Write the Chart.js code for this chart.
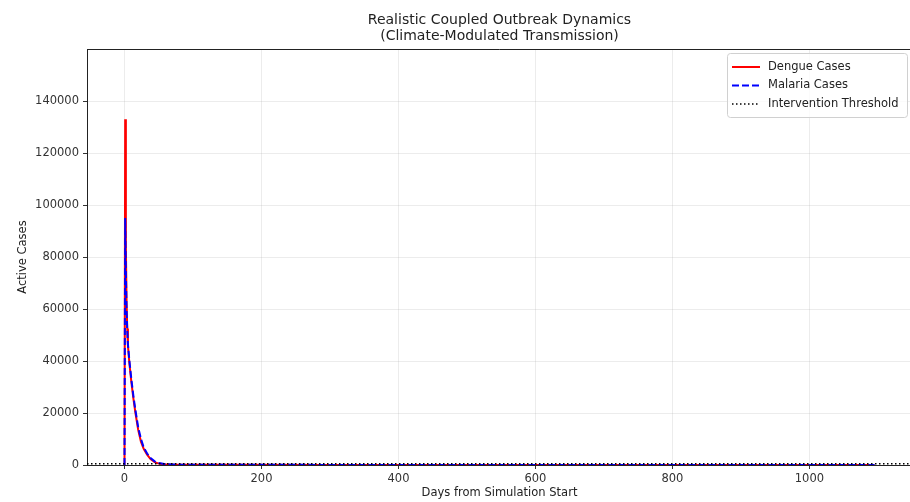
<!DOCTYPE html>
<html>
<head>
<meta charset="utf-8">
<script src="https://cdn.jsdelivr.net/npm/chart.js@4.4.1/dist/chart.umd.min.js"></script>
<style>
  html, body { margin: 0; padding: 0; background: #fff; overflow: hidden; }
  #wrap { width: 915px; height: 502px; }
</style>
</head>
<body>
<div id="wrap"><canvas id="chart" width="915" height="502"></canvas></div>
<script>
// values
const days = [0, 1, 2, 3, 4, 5, 7, 10, 13, 16, 20, 24, 28, 33, 38, 44, 50, 58, 70, 90, 150, 300, 500, 700, 900, 1095];
const dengueCases = [0, 133000, 84000, 63000, 52500, 46000, 39500, 32000, 25500, 20000, 13500, 9000, 6200, 4000, 2300, 1100, 550, 260, 140, 80, 50, 40, 35, 30, 30, 25];
const malariaCases = [0, 95000, 74000, 60000, 52000, 46500, 40500, 33000, 26500, 21000, 14500, 10000, 6800, 4400, 2700, 1400, 750, 380, 180, 90, 60, 45, 40, 35, 35, 30];
const threshold = 500;

const xLimits = [-54.75, 1149.75];
const yLimits = [0, 160000];
const xTicks = [0, 200, 400, 600, 800, 1000];
const yTicks = [0, 20000, 40000, 60000, 80000, 100000, 120000, 140000];

const titleLines = ["Realistic Coupled Outbreak Dynamics", "(Climate-Modulated Transmission)"];
const legendItems = [
  { label: "Dengue Cases", color: "#ff0000", dash: [], width: 2 },
  { label: "Malaria Cases", color: "#0000ff", dash: [7, 3], width: 2 },
  { label: "Intervention Threshold", color: "#000000", dash: [1.5, 2.5], width: 1.5 },
];

const FONT = "'DejaVu Sans', sans-serif";

function pairs(xs, ys) {
  return xs.map((x, i) => ({ x: x, y: ys[i] }));
}

const framePlugin = {
  id: "frameAndLegend",
  afterDraw(chart) {
    const ctx = chart.ctx;
    const a = chart.chartArea;
    ctx.save();

    // top and right spines
    ctx.strokeStyle = "#222";
    ctx.lineWidth = 1;
    ctx.beginPath();
    ctx.moveTo(a.left, a.top + 0.5);
    ctx.lineTo(a.right - 0.5, a.top + 0.5);
    ctx.lineTo(a.right - 0.5, a.bottom);
    ctx.stroke();

    // title, centred on the plot area
    ctx.fillStyle = "#222";
    ctx.font = "14px " + FONT;
    ctx.textAlign = "center";
    ctx.textBaseline = "middle";
    const cx = (a.left + a.right) / 2;
    ctx.fillText(titleLines[0], cx, 20);
    ctx.fillText(titleLines[1], cx, 36);

    // legend box in the upper right corner
    const w = 180, h = 64;
    const lx = a.right - 5 - w;
    const ly = a.top + 4;
    ctx.fillStyle = "rgba(255,255,255,0.8)";
    ctx.strokeStyle = "#d0d0d0";
    ctx.lineWidth = 1;
    ctx.beginPath();
    ctx.roundRect(lx + 0.5, ly + 0.5, w, h, 3);
    ctx.fill();
    ctx.stroke();

    ctx.font = "11.5px " + FONT;
    ctx.textAlign = "left";
    legendItems.forEach((item, i) => {
      const y = ly + 14 + i * 18.5;
      ctx.strokeStyle = item.color;
      ctx.lineWidth = item.width;
      ctx.setLineDash(item.dash);
      ctx.beginPath();
      ctx.moveTo(lx + 5, y);
      ctx.lineTo(lx + 33, y);
      ctx.stroke();
      ctx.setLineDash([]);
      ctx.fillStyle = "#222";
      ctx.fillText(item.label, lx + 41, y);
    });
    ctx.restore();
  },
};

new Chart(document.getElementById("chart").getContext("2d"), {
  type: "line",
  plugins: [framePlugin],
  data: {
    datasets: [
      {
        label: legendItems[0].label,
        data: pairs(days, dengueCases),
        borderColor: legendItems[0].color,
        borderWidth: legendItems[0].width,
        pointRadius: 0,
        tension: 0,
        order: 3,
      },
      {
        label: legendItems[1].label,
        data: pairs(days, malariaCases),
        borderColor: legendItems[1].color,
        borderWidth: legendItems[1].width,
        borderDash: legendItems[1].dash,
        pointRadius: 0,
        tension: 0,
        order: 2,
      },
      {
        label: legendItems[2].label,
        data: pairs(xLimits, [threshold, threshold]),
        borderColor: legendItems[2].color,
        borderWidth: legendItems[2].width,
        borderDash: legendItems[2].dash,
        pointRadius: 0,
        order: 1,
      },
    ],
  },
  options: {
    responsive: false,
    animation: false,
    events: [],
    layout: { padding: { top: 49, right: 3, left: 0, bottom: 0 } },
    plugins: {
      legend: { display: false },
      title: { display: false },
      tooltip: { enabled: false },
    },
    scales: {
      x: {
        type: "linear",
        min: xLimits[0],
        max: xLimits[1],
        afterBuildTicks: (s) => { s.ticks = xTicks.map((v) => ({ value: v })); },
        afterFit: (s) => { s.height = 37; },
        ticks: {
          color: "#333",
          font: { family: FONT, size: 11.5 },
          padding: 3,
          maxRotation: 0,
          callback: (v) => String(v),
        },
        grid: {
          color: "rgba(180,180,180,0.25)",
          tickColor: "#333",
          tickLength: 4,
        },
        border: { color: "#222", width: 1 },
        title: {
          display: true,
          text: "Days from Simulation Start",
          color: "#222",
          font: { family: FONT, size: 11.5 },
          padding: { top: 2, bottom: 2 },
        },
      },
      y: {
        type: "linear",
        min: yLimits[0],
        max: yLimits[1],
        afterBuildTicks: (s) => { s.ticks = yTicks.map((v) => ({ value: v })); },
        afterFit: (s) => { s.width = 87; },
        ticks: {
          color: "#333",
          font: { family: FONT, size: 11.5 },
          padding: 4,
          callback: (v) => String(v),
        },
        grid: {
          color: "rgba(180,180,180,0.25)",
          tickColor: "#333",
          tickLength: 4,
        },
        border: { color: "#222", width: 1 },
        title: {
          display: true,
          text: "Active Cases",
          color: "#222",
          font: { family: FONT, size: 11.5 },
          padding: { top: 16, bottom: 0 },
        },
      },
    },
  },
});
</script>
</body>
</html>
